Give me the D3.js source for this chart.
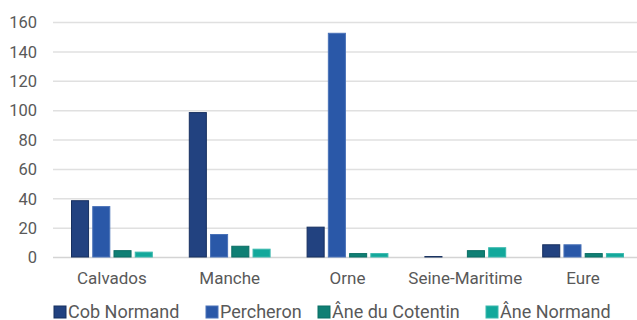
<!DOCTYPE html>
<html><head><meta charset="utf-8">
<script src="https://cdn.jsdelivr.net/npm/d3@7"></script>
<style>body{margin:0;background:#fff;overflow:hidden}svg{display:block;font-family:Roboto,sans-serif}</style>
</head><body><svg id="c" width="637" height="320"></svg>
<script>
const categories = ["Calvados","Manche","Orne","Seine-Maritime","Eure"];
const seriesNames = ["Cob Normand","Percheron","Âne du Cotentin","Âne Normand"];
const cobNormand = [39, 99, 21, 1, 9];
const percheron = [35, 16, 153, 0, 9];
const aneCotentin = [5, 8, 3, 5, 3];
const aneNormand = [4, 6, 3, 7, 3];
const yTicks = [0,20,40,60,80,100,120,140,160];
const colors = ["#224280","#2a58a8","#0f7f74","#12a89b"];
const strokes = ["#17305f","#4a72b8","#0b6e64","#3ab8ad"];

const series = [cobNormand, percheron, aneCotentin, aneNormand];
const svg = d3.select("#c");
const mLeft = 53, mRight = 642, mTop = 22.5, mBottom = 257.5;
const x = d3.scaleBand().domain(categories).range([mLeft, mRight]).paddingInner(0).paddingOuter(0);
const y = d3.scaleLinear().domain([0,160]).range([mBottom, mTop]);
const xs = d3.scaleBand().domain(d3.range(4)).range([18, x.bandwidth()-18]).paddingInner(0.15).paddingOuter(0);

// gridlines
svg.append("g").selectAll("line").data(yTicks).join("line")
  .attr("x1", mLeft).attr("x2", 637)
  .attr("y1", d => y(d)).attr("y2", d => y(d))
  .attr("stroke", d => d === 0 ? "#d4d4d4" : "#e0e0e0").attr("stroke-width", 1.5);

// y axis
const ya = svg.append("g").attr("transform", `translate(${mLeft},0)`)
  .call(d3.axisLeft(y).tickValues(yTicks).tickSize(0).tickPadding(16));
ya.select(".domain").remove();
ya.selectAll("text").attr("fill","#595959").style("font-size","16.5px").style("font-family","Roboto");

// bars
categories.forEach((c, ci) => {
  series.forEach((s, si) => {
    const v = s[ci];
    if (v <= 0) return;
    svg.append("rect")
      .attr("x", x(c) + xs(si) + 0.5)
      .attr("y", y(v) + 0.5)
      .attr("width", xs.bandwidth() - 1)
      .attr("height", Math.max(0, y(0) - y(v) - 1))
      .attr("fill", colors[si]).attr("stroke", strokes[si]).attr("stroke-width", 1);
  });
});

// x axis
const xa = svg.append("g").attr("transform", `translate(0,${mBottom})`)
  .call(d3.axisBottom(x).tickSize(0).tickPadding(14));
xa.select(".domain").remove();
xa.selectAll("text").attr("fill","#595959").style("font-size","17px").style("font-family","Roboto");

// legend
const legX = [54, 206, 318, 486];
const lg = svg.append("g");
seriesNames.forEach((n, i) => {
  lg.append("rect").attr("x", legX[i]).attr("y", 306).attr("width", 12).attr("height", 12)
    .attr("fill", colors[i]).attr("stroke", strokes[i]).attr("stroke-width", 1);
  lg.append("text").attr("x", legX[i] + 14).attr("y", 317.5).text(n)
    .attr("fill","#595959").style("font-size","18px");
});
</script></body></html>
